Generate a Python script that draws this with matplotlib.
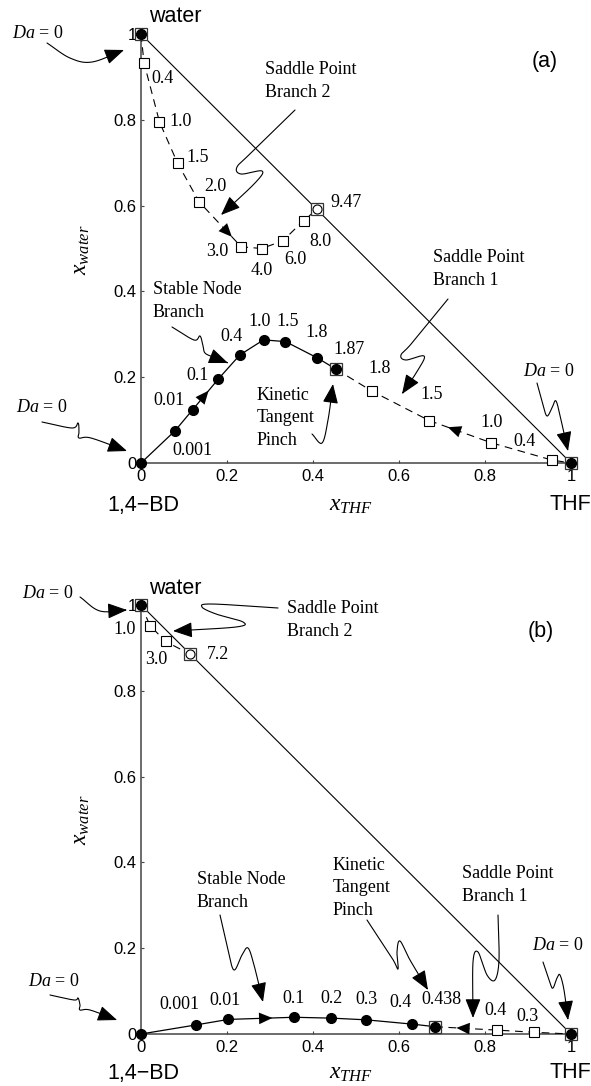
import numpy as np
import matplotlib
matplotlib.use("Agg")
import matplotlib.pyplot as plt
from matplotlib.patches import FancyArrowPatch
from matplotlib.path import Path

plt.rcParams['mathtext.fontset'] = 'custom'
plt.rcParams['mathtext.rm'] = 'Liberation Serif'
plt.rcParams['mathtext.it'] = 'Liberation Serif:italic'
plt.rcParams['font.family'] = ['Liberation Sans', 'DejaVu Sans']

# ---------------- data: panel (a) ----------------
a_stable_da = ['0', '0.001', '0.01', '0.1', '0.4', '1.0', '1.5', '1.8', '1.87']
a_stable_x = [0.0, 0.079, 0.120, 0.180, 0.230, 0.285, 0.336, 0.410, 0.453]
a_stable_y = [0.0, 0.075, 0.124, 0.196, 0.252, 0.287, 0.283, 0.245, 0.219]

a_sp1_da = ['1.87', '1.8', '1.5', '1.0', '0.4', '0']
a_sp1_x = [0.453, 0.538, 0.670, 0.815, 0.955, 1.0]
a_sp1_y = [0.219, 0.167, 0.099, 0.047, 0.007, 0.0]

a_sp2_da = ['0', '0.4', '1.0', '1.5', '2.0', '3.0', '4.0', '6.0', '8.0', '9.47']
a_sp2_x = [0.0, 0.007, 0.043, 0.085, 0.135, 0.233, 0.281, 0.330, 0.378, 0.409]
a_sp2_y = [1.0, 0.933, 0.795, 0.699, 0.609, 0.504, 0.500, 0.518, 0.565, 0.591]

# ---------------- data: panel (b) ----------------
b_stable_da = ['0', '0.001', '0.01', '0.1', '0.2', '0.3', '0.4', '0.438']
b_stable_x = [0.0, 0.127, 0.203, 0.356, 0.443, 0.524, 0.631, 0.684]
b_stable_y = [0.0, 0.021, 0.034, 0.039, 0.037, 0.033, 0.023, 0.017]

b_sp1_da = ['0.438', '0.4', '0.3', '0']
b_sp1_x = [0.684, 0.829, 0.914, 1.0]
b_sp1_y = [0.017, 0.009, 0.004, 0.0]

b_sp2_da = ['0', '1.0', '3.0', '7.2']
b_sp2_x = [0.0, 0.021, 0.057, 0.115]
b_sp2_y = [1.0, 0.952, 0.915, 0.885]

tick_vals = [0, 0.2, 0.4, 0.6, 0.8, 1.0]
tick_labels = ['0', '0.2', '0.4', '0.6', '0.8', '1']

# ---------------- layout ----------------
W, H = 591, 1086
GEOM = {'a': (141, 571, 463, 34), 'b': (141, 571, 1034, 605)}

fig = plt.figure(figsize=(W / 100, H / 100), dpi=100)
SERIF = 'Liberation Serif'
SANS = 'Liberation Sans'
SPINE = '#444444'
DA0 = '$Da$ = 0'


def P(panel, px, py):
    x0, x1, y0, y1 = GEOM[panel]
    return ((px - x0) / (x1 - x0), (y0 - py) / (y0 - y1))


def make_ax(panel):
    x0, x1, y0, y1 = GEOM[panel]
    ax = fig.add_axes([x0 / W, (H - y0) / H, (x1 - x0) / W, (y0 - y1) / H])
    for s in ['top', 'right']:
        ax.spines[s].set_visible(False)
    for s in ['left', 'bottom']:
        ax.spines[s].set_color(SPINE)
        ax.spines[s].set_linewidth(1.1)
    ax.set_xticks(tick_vals)
    ax.set_xticklabels(tick_labels)
    ax.set_yticks(tick_vals)
    ax.set_yticklabels(tick_labels)
    ax.tick_params(direction='in', length=2.5, width=0.8, color=SPINE,
                   labelsize=12, labelcolor='black')
    ax.tick_params(axis='x', pad=4)
    ax.tick_params(axis='y', pad=3)
    ax.plot([0, 1], [1, 0], color='black', lw=0.8, zorder=2)
    return ax


def smooth(pts, n=24):
    pts = np.asarray(pts, float)
    Q = np.vstack([2 * pts[0] - pts[1], pts, 2 * pts[-1] - pts[-2]])
    out = []
    for i in range(1, len(Q) - 2):
        p0, p1, p2, p3 = Q[i - 1], Q[i], Q[i + 1], Q[i + 2]
        t = np.linspace(0, 1, n, endpoint=False)[:, None]
        seg = 0.5 * ((2 * p1) + (-p0 + p2) * t + (2 * p0 - 5 * p1 + 4 * p2 - p3) * t ** 2
                     + (-p0 + 3 * p1 - 3 * p2 + p3) * t ** 3)
        out.append(seg)
    out.append(pts[-1:])
    return np.vstack(out)


def squiggle(ax, panel, pts_px):
    curve = smooth(pts_px)
    verts = np.array([P(panel, px, py) for px, py in curve])
    codes = [Path.MOVETO] + [Path.LINETO] * (len(verts) - 1)
    arr = FancyArrowPatch(path=Path(verts, codes),
                          arrowstyle='-|>,head_length=0.75,head_width=0.3',
                          mutation_scale=16, lw=0.8, color='black',
                          transform=ax.transData, clip_on=False, zorder=5)
    ax.add_patch(arr)


def label(ax, panel, px, py, s, **kw):
    x, y = P(panel, px, py)
    kw.setdefault('fontsize', 13)
    kw.setdefault('family', SERIF)
    kw.setdefault('ha', 'center')
    kw.setdefault('va', 'center')
    ax.text(x, y, s, transform=ax.transData, clip_on=False, **kw)


def point_labels(ax, xs, ys, das, offs):
    for x, y, d, off in zip(xs, ys, das, offs):
        if off is None:
            continue
        ax.annotate(d, (x, y), xytext=(off[0], -off[1]), textcoords='offset pixels',
                    ha='center', va='center', fontsize=13, family=SERIF,
                    annotation_clip=False)


def flow_arrow(ax, xs, ys, i, j, f_tip, f_tail):
    xt = xs[i] + (xs[j] - xs[i]) * f_tip
    yt = ys[i] + (ys[j] - ys[i]) * f_tip
    xb = xs[i] + (xs[j] - xs[i]) * f_tail
    yb = ys[i] + (ys[j] - ys[i]) * f_tail
    ax.add_patch(FancyArrowPatch((xb, yb), (xt, yt),
                                 arrowstyle='-|>,head_length=0.8,head_width=0.35',
                                 mutation_scale=12, lw=0.0, color='black',
                                 shrinkA=0, shrinkB=0, zorder=6))


def branches(ax, st_x, st_y, s1_x, s1_y, s2_x, s2_y):
    dash = dict(color='black', lw=0.8, linestyle=(0, (7, 5)), zorder=3)
    ax.plot(s1_x, s1_y, **dash)
    ax.plot(s2_x, s2_y, **dash)
    ax.plot(st_x, st_y, color='black', lw=0.9, zorder=3)
    sq = dict(marker='s', ms=6.5, mfc='white', mec='black', mew=0.8, ls='none',
              zorder=7, clip_on=False)
    ax.plot(s1_x[1:-1], s1_y[1:-1], **sq)
    ax.plot(s2_x[1:-1], s2_y[1:-1], **sq)
    big_sq = dict(marker='s', ms=8, mfc='white', mec='#333333', mew=0.9, ls='none',
                  zorder=7, clip_on=False)
    ax.plot([s1_x[0], s1_x[-1], s2_x[0], s2_x[-1]],
            [s1_y[0], s1_y[-1], s2_y[0], s2_y[-1]], **big_sq)
    ax.plot(st_x + [s1_x[-1], s2_x[0]],
            st_y + [s1_y[-1], s2_y[0]],
            marker='o', ms=7, mfc='black', mec='black', ls='none', zorder=8,
            clip_on=False)
    ax.plot([s2_x[-1]], [s2_y[-1]], marker='o', ms=6.5, mfc='white', mec='black',
            mew=0.8, ls='none', zorder=8, clip_on=False)


def common_labels(ax, panel, y_top, y_bot, ylab_y):
    label(ax, panel, 175, y_top, 'water', family=SANS, fontsize=15.5)
    label(ax, panel, 143, y_bot, '1,4\u2212BD', family=SANS, fontsize=15.5)
    label(ax, panel, 570, y_bot, 'THF', family=SANS, fontsize=15.5)
    label(ax, panel, 351, y_bot, '$x_{THF}$', fontsize=17)
    label(ax, panel, 82, ylab_y, '$x_{water}$', fontsize=17, rotation=90)


LS = 1.4

# ================= panel (a) =================
ax = make_ax('a')
branches(ax, a_stable_x, a_stable_y, a_sp1_x, a_sp1_y, a_sp2_x, a_sp2_y)
point_labels(ax, a_stable_x, a_stable_y, a_stable_da,
             [None, (17, 20), (-24, -9), (-21, -3), (-8, -18), (-4, -18), (2, -20),
              (-1, -25), (13, -20)])
point_labels(ax, a_sp1_x, a_sp1_y, a_sp1_da,
             [None, (7, -23), (3, -26), (0, -20), (-27, -18), None])
point_labels(ax, a_sp2_x, a_sp2_y, a_sp2_da,
             [None, (18, 16), (21, 0), (20, -6), (16, -15), (-24, 5), (0, 22),
              (12, 19), (17, 21), (29, -7)])
flow_arrow(ax, a_stable_x, a_stable_y, 2, 3, 0.62, 0.25)
flow_arrow(ax, a_sp1_x, a_sp1_y, 3, 2, 0.70, 0.30)
flow_arrow(ax, a_sp2_x, a_sp2_y, 4, 5, 0.78, 0.40)

common_labels(ax, 'a', 17, 505, 250)
label(ax, 'a', 545, 61, '(a)', family=SANS, fontsize=15.5)
label(ax, 'a', 38, 33, DA0)
label(ax, 'a', 42, 408, DA0)
label(ax, 'a', 549, 372, DA0)
label(ax, 'a', 265, 81, 'Saddle Point\nBranch 2', ha='left', linespacing=LS)
label(ax, 'a', 153, 301, 'Stable Node\nBranch', ha='left', linespacing=LS)
label(ax, 'a', 257, 418, 'Kinetic\nTangent\nPinch', ha='left', linespacing=LS)
label(ax, 'a', 433, 269, 'Saddle Point\nBranch 1', ha='left', linespacing=LS)

squiggle(ax, 'a', [(47, 43), (70, 58), (92, 62), (124, 50)])
squiggle(ax, 'a', [(295, 110), (252, 152), (237, 167), (241, 174), (262, 171),
                   (255, 183), (221, 215)])
squiggle(ax, 'a', [(172, 327), (194, 340), (200, 336), (203, 346), (205, 353),
                   (213, 357), (228, 363)])
squiggle(ax, 'a', [(42, 422), (72, 428), (78, 423), (79, 432), (79, 438),
                   (91, 438), (127, 451)])
squiggle(ax, 'a', [(312, 434), (322, 443), (328, 420), (333, 384)])
squiggle(ax, 'a', [(448, 299), (412, 343), (401, 355), (406, 360), (424, 356),
                   (418, 370), (402, 394)])
squiggle(ax, 'a', [(537, 383), (543, 405), (547, 416), (552, 408), (556, 401),
                   (561, 420), (568, 451)])
ax.set_xlim(0, 1)
ax.set_ylim(0, 1)

# ================= panel (b) =================
ax = make_ax('b')
branches(ax, b_stable_x, b_stable_y, b_sp1_x, b_sp1_y, b_sp2_x, b_sp2_y)
point_labels(ax, b_stable_x, b_stable_y, b_stable_da,
             [None, (-16, -20), (-3, -19), (-1, -19), (0, -20), (0, -20), (-12, -22),
              (6, -27)])
point_labels(ax, b_sp1_x, b_sp1_y, b_sp1_da, [None, (-2, -20), (-7, -16), None])
point_labels(ax, b_sp2_x, b_sp2_y, b_sp2_da, [None, (-25, 4), (-9, 18), (28, 0)])
flow_arrow(ax, b_stable_x, b_stable_y, 2, 3, 0.67, 0.30)
flow_arrow(ax, b_sp1_x, b_sp1_y, 1, 0, 0.66, 0.30)

common_labels(ax, 'b', 589, 1073, 820)
label(ax, 'b', 541, 631, '(b)', family=SANS, fontsize=15.5)
label(ax, 'b', 48, 593, DA0)
label(ax, 'b', 54, 982, DA0)
label(ax, 'b', 558, 946, DA0)
label(ax, 'b', 287, 620, 'Saddle Point\nBranch 2', ha='left', linespacing=LS)
label(ax, 'b', 197, 891, 'Stable Node\nBranch', ha='left', linespacing=LS)
label(ax, 'b', 333, 888, 'Kinetic\nTangent\nPinch', ha='left', linespacing=LS)
label(ax, 'b', 462, 885, 'Saddle Point\nBranch 1', ha='left', linespacing=LS)

squiggle(ax, 'b', [(80, 597), (100, 611), (127, 610)])
squiggle(ax, 'b', [(278, 608), (212, 604), (202, 607), (216, 614), (243, 622),
                   (236, 627), (173, 631)])
squiggle(ax, 'b', [(220, 915), (228, 950), (234, 970), (242, 955), (248, 948),
                   (254, 965), (263, 1002)])
squiggle(ax, 'b', [(50, 995), (74, 1000), (78, 998), (80, 1005), (80, 1010),
                   (90, 1010), (117, 1020)])
squiggle(ax, 'b', [(367, 920), (392, 958), (398, 969), (397, 952), (400, 941),
                   (410, 960), (428, 990)])
squiggle(ax, 'b', [(498, 915), (499, 960), (495, 980), (487, 975), (478, 952),
                   (473, 962), (473, 1018)])
squiggle(ax, 'b', [(543, 962), (550, 983), (553, 988), (557, 978), (560, 975),
                   (564, 990), (568, 1020)])
ax.set_xlim(0, 1)
ax.set_ylim(0, 1)

fig.savefig('out.png', dpi=100)
